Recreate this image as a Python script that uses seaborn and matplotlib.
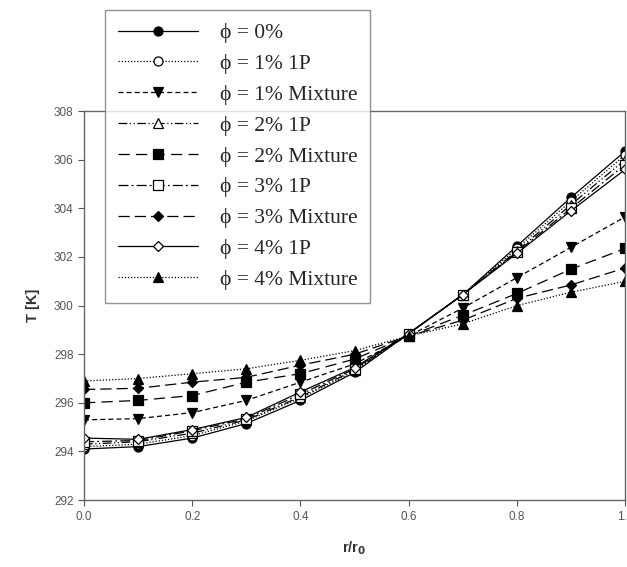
import numpy as np
import pandas as pd
import seaborn as sns
from matplotlib import pyplot as plt

r = [0.0, 0.1, 0.2, 0.3, 0.4, 0.5, 0.6, 0.7, 0.8, 0.9, 1.0]

phi0 = [294.1, 294.2, 294.55, 295.15, 296.1, 297.25, 298.85, 300.45, 302.45, 304.45, 306.35]
phi1_1p = [294.2, 294.3, 294.65, 295.25, 296.2, 297.3, 298.85, 300.45, 302.35, 304.3, 306.2]
phi1_mix = [295.3, 295.35, 295.6, 296.1, 296.85, 297.6, 298.75, 299.9, 301.15, 302.4, 303.65]
phi2_1p = [294.3, 294.4, 294.75, 295.3, 296.25, 297.35, 298.85, 300.45, 302.25, 304.15, 306.0]
phi2_mix = [296.0, 296.1, 296.3, 296.85, 297.2, 297.8, 298.75, 299.6, 300.5, 301.5, 302.35]
phi3_1p = [294.4, 294.45, 294.85, 295.35, 296.35, 297.4, 298.85, 300.45, 302.2, 304.0, 305.8]
phi3_mix = [296.55, 296.6, 296.85, 297.05, 297.55, 298.0, 298.75, 299.4, 300.3, 300.85, 301.55]
phi4_1p = [294.55, 294.5, 294.9, 295.4, 296.45, 297.45, 298.85, 300.45, 302.15, 303.9, 305.6]
phi4_mix = [296.9, 297.0, 297.2, 297.4, 297.75, 298.15, 298.75, 299.25, 300.0, 300.55, 301.0]

labels = ["ϕ = 0%", "ϕ = 1% 1P", "ϕ = 1% Mixture", "ϕ = 2% 1P", "ϕ = 2% Mixture",
          "ϕ = 3% 1P", "ϕ = 3% Mixture", "ϕ = 4% 1P", "ϕ = 4% Mixture"]
series = [phi0, phi1_1p, phi1_mix, phi2_1p, phi2_mix, phi3_1p, phi3_mix, phi4_1p, phi4_mix]

# (marker, filled, dash pattern)
styles = [
    ("o", True, "-"),
    ("o", False, (0, (1, 1.5))),
    ("v", True, (0, (4, 2.5))),
    ("^", False, (0, (7, 2, 1, 2, 1, 2))),
    ("s", True, (0, (9, 5))),
    ("s", False, (0, (8, 2.5, 1.5, 2.5))),
    ("D", True, (0, (9, 4))),
    ("D", False, "-"),
    ("^", True, (0, (1, 1.5))),
]

sns.set_style("ticks")
plt.rcParams["font.family"] = ["Liberation Sans", "DejaVu Sans"]

fig = plt.figure(figsize=(6.27, 5.67), dpi=100)
ax = fig.add_axes([0.134, 0.118, 0.863, 0.686])

for lab, vals, (mk, filled, ls) in zip(labels, series, styles):
    df = pd.DataFrame({"r": r, "T": vals})
    sns.lineplot(data=df, x="r", y="T", ax=ax, color="black", lw=0.9, linestyle=ls,
                 marker=mk, markersize=6.5 if mk != "D" else 5.5,
                 markerfacecolor="black" if filled else "white",
                 markeredgecolor="black", markeredgewidth=0.9, label=lab, legend=False)

ax.set_xlim(0, 1.0)
ax.set_ylim(292, 308)
ax.set_xticks(np.arange(0, 1.01, 0.2))
ax.set_xticklabels([f"{v:.1f}" for v in np.arange(0, 1.01, 0.2)])
ax.set_yticks(np.arange(292, 309, 2))
ax.tick_params(axis="both", labelsize=8.5, labelcolor="#555555", color="#555555",
               length=4, width=0.8, direction="out")
for sp in ax.spines.values():
    sp.set_color("#666666")
    sp.set_linewidth(1.0)

ax.set_xlabel("r/r$_\\mathbf{0}$", fontsize=10.5, fontweight="bold", color="#333333", labelpad=12)
ax.set_ylabel("T [K]", fontsize=10.5, fontweight="bold", color="#333333", labelpad=10)

handles, labs = ax.get_legend_handles_labels()
leg = fig.legend(handles, labs, loc="upper left", bbox_to_anchor=(0.167, 0.982),
                 bbox_transform=fig.transFigure, borderaxespad=0, frameon=True,
                 fancybox=False, edgecolor="#777777", handlelength=3.75,
                 handletextpad=1.0, borderpad=0.6, labelspacing=0.5,
                 prop={"family": ["Liberation Serif", "DejaVu Serif"], "size": 15.5})
leg.get_frame().set_linewidth(1.0)

fig.savefig("out.png", dpi=100)
